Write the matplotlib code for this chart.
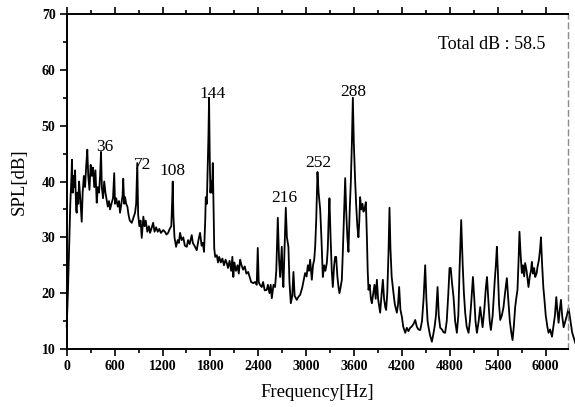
import matplotlib.pyplot as plt
from matplotlib.ticker import MultipleLocator

plt.rcParams['font.family'] = ['Liberation Serif', 'DejaVu Serif']

# spectrum (Hz, dB)
freq_hz = [0, 15, 30, 45, 60, 66, 75, 85, 95, 105, 118, 125, 135, 145, 155, 170, 188, 200, 215, 230,
           245, 258, 270, 285, 300, 315, 330, 345, 360, 376, 390, 405, 418, 430, 440, 455, 470, 485, 501, 515,
           530, 543, 560, 580, 595, 605, 620, 640, 655, 668, 685, 700, 708, 720, 731, 745, 760, 775, 790, 815,
           835, 856, 870, 884, 895, 910, 925, 940, 960, 975, 990, 1010, 1030, 1044, 1060, 1083, 1100, 1120, 1140, 1160,
           1180, 1210, 1230, 1250, 1270, 1290, 1310, 1320, 1328, 1336, 1350, 1370, 1390, 1405, 1420, 1440, 1460, 1480, 1504, 1520,
           1540, 1566, 1580, 1600, 1629, 1650, 1670, 1690, 1705, 1720, 1735, 1742, 1755, 1765, 1775, 1783, 1792, 1800, 1810, 1820,
           1830, 1840, 1848, 1860, 1880, 1895, 1910, 1930, 1950, 1970, 1990, 2005, 2020, 2040, 2060, 2075, 2087, 2100, 2120, 2140,
           2155, 2172, 2190, 2210, 2230, 2250, 2273, 2290, 2310, 2335, 2360, 2380, 2393, 2405, 2420, 2443, 2460, 2480, 2506, 2520,
           2540, 2555, 2569, 2590, 2610, 2625, 2644, 2660, 2673, 2694, 2704, 2714, 2728, 2744, 2758, 2777, 2790, 2807, 2825, 2840,
           2855, 2882, 2900, 2924, 2950, 2970, 2986, 3005, 3020, 3035, 3049, 3060, 3070, 3085, 3100, 3112, 3125, 3141, 3155, 3175,
           3190, 3208, 3225, 3240, 3258, 3270, 3280, 3291, 3305, 3320, 3333, 3350, 3362, 3375, 3390, 3405, 3416, 3430, 3446, 3460,
           3475, 3488, 3500, 3515, 3529, 3545, 3559, 3572, 3584, 3596, 3613, 3625, 3640, 3654, 3665, 3675, 3690, 3705, 3717, 3730,
           3747, 3760, 3770, 3780, 3795, 3810, 3822, 3840, 3855, 3870, 3885, 3900, 3915, 3926, 3945, 3960, 3975, 3990, 4001, 4015,
           4030, 4043, 4055, 4070, 4093, 4110, 4135, 4150, 4164, 4180, 4198, 4215, 4240, 4260, 4280, 4302, 4320, 4345, 4365, 4385,
           4405, 4428, 4450, 4470, 4490, 4505, 4520, 4532, 4550, 4574, 4590, 4607, 4625, 4645, 4660, 4678, 4700, 4720, 4740, 4760,
           4780, 4795, 4810, 4825, 4845, 4865, 4887, 4905, 4920, 4941, 4960, 4975, 4991, 5010, 5033, 5050, 5070, 5088, 5105, 5120,
           5138, 5160, 5179, 5195, 5209, 5230, 5250, 5264, 5280, 5298, 5313, 5335, 5360, 5375, 5388, 5400, 5415, 5430, 5450, 5471,
           5490, 5513, 5530, 5550, 5568, 5584, 5600, 5617, 5630, 5646, 5660, 5671, 5685, 5701, 5715, 5730, 5742, 5760, 5784, 5800,
           5815, 5826, 5840, 5855, 5868, 5885, 5897, 5915, 5930, 5940, 5955, 5970, 5981, 6000, 6020, 6035, 6055, 6078, 6095, 6115,
           6132, 6145, 6161, 6175, 6191, 6205, 6224, 6245, 6265, 6286, 6300, 6330, 6370]
spl_db = [14, 20, 28, 36, 41, 43.9, 38, 41, 39, 42, 35, 34.4, 38, 36, 40, 37, 32.8, 38, 41, 39,
          43, 45.7, 41, 38.5, 43, 41, 42.5, 39, 42, 36.2, 39, 38, 41, 45.3, 39, 37, 40, 38, 36.7, 35.5,
          36.5, 35, 36, 37, 41.5, 36, 37, 35.5, 36.5, 34.4, 36, 37.5, 40.5, 36, 37.2, 36, 35.5, 34, 33, 32.6,
          33.5, 34.4, 36, 43.3, 34, 32, 33, 29.9, 33.7, 32, 33, 31, 32, 30.8, 31.5, 32.6, 31, 31.8, 31, 31.5,
          30.8, 31.3, 31, 30.5, 30.8, 31.5, 32, 36, 40, 34, 30, 28.3, 29.5, 29, 30.8, 29.5, 30, 28.5, 28.3, 29.5,
          28.8, 30.4, 29, 28.5, 27.7, 29.5, 30.8, 28.5, 29, 27.4, 33, 37.2, 36, 42, 48, 55, 44, 38, 40, 38,
          43.3, 35, 28, 26.5, 26.8, 25.5, 26.5, 25.5, 26.2, 25, 26, 25.4, 24.5, 25.8, 24, 26.5, 22.9, 25.5, 24, 25,
          23.5, 26, 25, 24.2, 24.8, 23.5, 23.8, 23, 22, 21.8, 22, 21.5, 28.1, 22, 21.5, 21.1, 22, 20.5, 20.6, 21.5,
          20, 21.5, 19.1, 21.5, 21.1, 24, 33.5, 26, 22.9, 28.3, 23, 21.1, 28, 35.3, 30, 28.3, 22, 18.2, 19.5, 23.8,
          19.5, 18.8, 19.3, 19.7, 21, 22.5, 23.6, 23, 25, 24, 26, 24, 22.4, 25, 26, 28.3, 33, 41.7, 38, 35,
          30, 22.9, 25, 24, 25.4, 28, 33, 37, 30, 24, 21.1, 25, 26.5, 26.5, 23, 21, 20, 21, 22.4, 28,
          35, 40.6, 35, 30, 27.4, 35, 40, 47, 55, 47, 40, 36, 32, 30, 33, 37.2, 35, 36, 34.6, 35,
          36.3, 30, 24, 20.6, 21.5, 19, 18.2, 20, 21.5, 19, 22.4, 19, 17.5, 16.5, 20, 22.4, 19, 17.5, 17, 20,
          27, 35.3, 28, 23, 20, 18, 16.5, 18, 21.1, 17, 15.8, 14, 12.9, 13.8, 13.2, 13.8, 14, 14.5, 15.2, 14,
          13.5, 13.4, 15, 19, 25, 19, 15, 13.9, 12.5, 11.3, 12.5, 13.9, 16, 21.1, 16, 13.8, 13.5, 13, 12.9, 15,
          20, 24.5, 24.5, 22, 19.3, 15, 12.9, 16, 24, 33.1, 25, 20, 16.5, 14, 12.9, 15, 19, 22.9, 19, 15,
          12.9, 15, 17.5, 15.5, 13.9, 17, 21, 22.9, 19, 15, 13.4, 16, 22, 25, 28.3, 24, 18, 15.2, 16, 17.5,
          20, 22.7, 19, 15, 13, 11.6, 14, 17.5, 19, 20.6, 26, 31, 27, 23.6, 25, 23, 25.4, 24, 21.1, 23,
          24, 25.6, 23.5, 24.5, 22.9, 23.5, 24.7, 26, 28, 30, 25, 21, 19.3, 16, 14, 12.9, 13.5, 12.2, 14, 16,
          19.3, 17, 14.7, 17, 18.8, 16, 13.9, 15, 16, 17.3, 16, 13, 11.1]

# harmonic labels above the peaks (centre positions)
peak_labels = ['36', '72', '108', '144', '216', '252', '288']
peak_x = [480, 945, 1322, 1822, 2723, 3150, 3588]
peak_y = [46.2, 43.0, 41.8, 55.6, 37.0, 43.3, 56.0]
total_text = 'Total dB : 58.5'

fig = plt.figure(figsize=(5.75, 4.07), dpi=100)
ax = fig.add_axes([0.116, 0.1425, 0.872, 0.8231])

ax.plot(freq_hz, spl_db, color='black', lw=1.3, clip_on=False)

for t, x, y in zip(peak_labels, peak_x, peak_y):
    ax.text(x, y, t, fontsize=12.5, ha='center', va='center')
ax.text(0.847, 0.91, total_text, transform=ax.transAxes, fontsize=13, ha='center', va='center')

ax.set_xlim(0, 6280)
ax.set_ylim(10, 70)
ax.xaxis.set_major_locator(MultipleLocator(600))
ax.xaxis.set_minor_locator(MultipleLocator(300))
ax.yaxis.set_major_locator(MultipleLocator(10))
ax.yaxis.set_minor_locator(MultipleLocator(5))
ax.tick_params(which='both', direction='out', top=True, right=False, width=1.2,
               labelsize=10, pad=3)
ax.tick_params(which='major', length=5)
ax.tick_params(which='minor', length=3)
for lab in ax.get_xticklabels() + ax.get_yticklabels():
    lab.set_fontweight('bold')

for s in ['left', 'bottom', 'top']:
    ax.spines[s].set_linewidth(1.4)
ax.spines['right'].set_linewidth(1.0)
ax.spines['right'].set_color('0.55')
ax.spines['right'].set_linestyle((0, (4, 3)))

ax.set_xlabel('Frequency[Hz]', fontsize=13.5, labelpad=8)
ax.set_ylabel('SPL[dB]', fontsize=13.5, labelpad=10)

fig.savefig('out.png', dpi=100)
